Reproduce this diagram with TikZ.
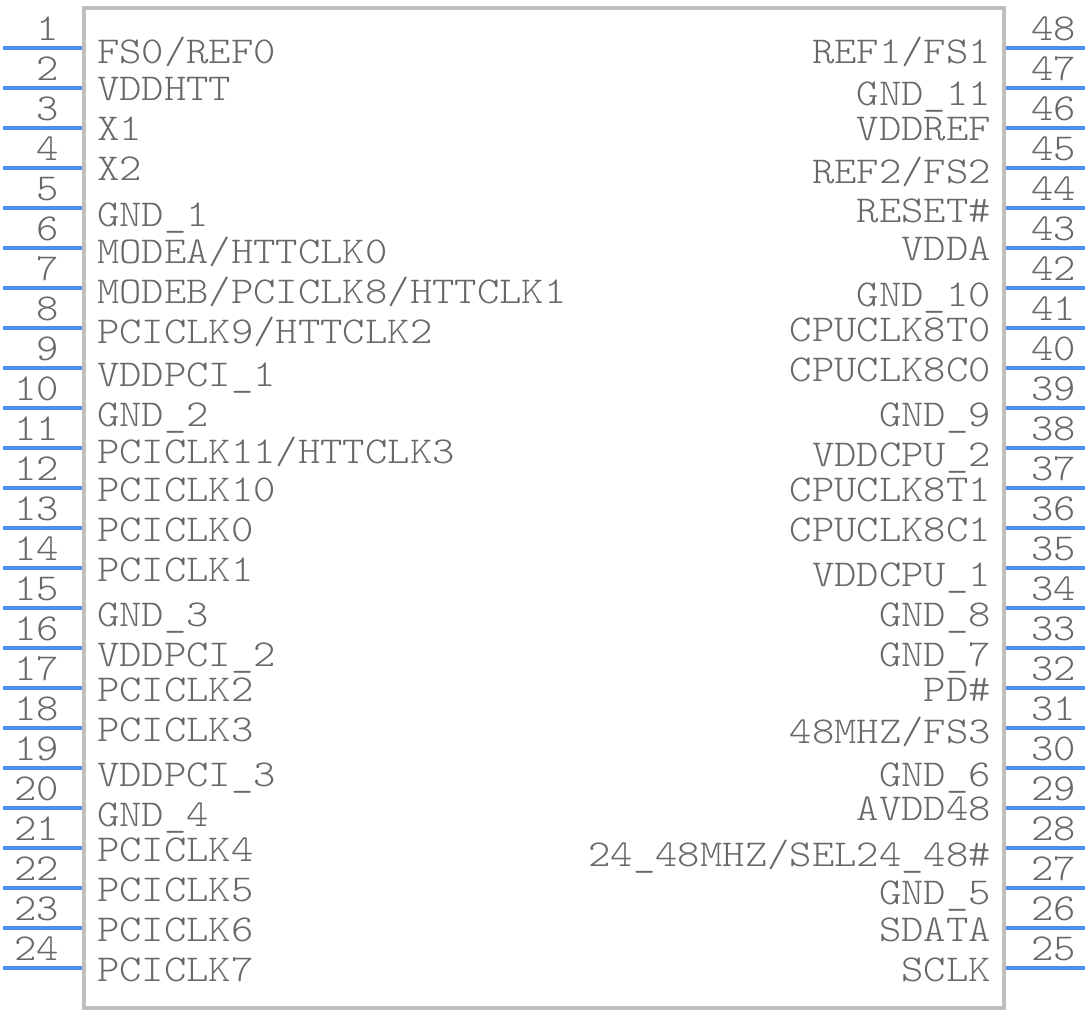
\documentclass[tikz,border=0pt]{standalone}
\usepackage{fontspec}
\setmonofont[FakeStretch=1.12]{Latin Modern Mono Light}
\usetikzlibrary{positioning}
\definecolor{pinblue}{HTML}{4A90EE}
\definecolor{bodygray}{HTML}{BFBFBF}
\definecolor{textgray}{HTML}{686868}
\tikzset{
    chipbody/.style={draw=bodygray, line width=4pt, inner sep=0pt, minimum width=919.5pt, minimum height=999.5pt},
    pinline/.style={draw=pinblue, line width=4pt},
    pintext/.style={font=\ttfamily\fontsize{38}{38}\selectfont, text=textgray, inner sep=0pt},
}

\begin{document}
\begin{tikzpicture}[x=1pt, y=-1pt]
    \useasboundingbox (0,0) rectangle (1088,1012);

    \node (chip) [chipbody] at (544,508) {};

    % Pins, 1 to 24 down the left and 48 to 25 down the right
    \foreach \i [evaluate=\i as \py using {48+40*(\i-1)}, evaluate=\i as \nr using {int(49-\i)}] in {1,...,24} {
        \coordinate (pinL\i) at (3,\py);
        \coordinate (pinR\nr) at (1085,\py);
        \draw[pinline] (pinL\i) -- (pinL\i -| chip.west);
        \draw[pinline] (pinR\nr) -- (pinR\nr -| chip.east);
        \node (numL\i) [pintext, anchor=base east] at ([shift={(56,-8)}]pinL\i) {\i};
        \node (numR\nr) [pintext, anchor=base west] at ([shift={(-54,-8)}]pinR\nr) {\nr};
    }

    % Left names
    \foreach \i/\ty/\txt in {
        1/63/{FS0/REF0}, 2/100/{VDDHTT}, 3/140/{X1}, 4/180/{X2},
        5/226/{GND\_1}, 6/263/{MODEA/HTTCLK0}, 7/303/{MODEB/PCICLK8/HTTCLK1}, 8/343/{PCICLK9/HTTCLK2},
        9/386/{VDDPCI\_1}, 10/426/{GND\_2}, 11/463/{PCICLK11/HTTCLK3}, 12/501/{PCICLK10},
        13/541/{PCICLK0}, 14/581/{PCICLK1}, 15/626/{GND\_3}, 16/666/{VDDPCI\_2},
        17/701/{PCICLK2}, 18/741/{PCICLK3}, 19/786/{VDDPCI\_3}, 20/826/{GND\_4},
        21/861/{PCICLK4}, 22/901/{PCICLK5}, 23/941/{PCICLK6}, 24/981/{PCICLK7}} {
        \node (nameL\i) [pintext, anchor=base west] at (97,\ty) {\txt};
    }

    % Right names
    \foreach \i/\ty/\txt in {
        48/63/{REF1/FS1}, 47/105/{GND\_11}, 46/140/{VDDREF}, 45/183/{REF2/FS2},
        44/222/{RESET\#}, 43/260/{VDDA}, 42/306/{GND\_10}, 41/341/{CPUCLK8T0},
        40/381/{CPUCLK8C0}, 39/426/{GND\_9}, 38/466/{VDDCPU\_2}, 37/501/{CPUCLK8T1},
        36/541/{CPUCLK8C1}, 35/586/{VDDCPU\_1}, 34/626/{GND\_8}, 33/666/{GND\_7},
        32/701/{PD\#}, 31/743/{48MHZ/FS3}, 30/786/{GND\_6}, 29/820/{AVDD48},
        28/866/{24\_48MHZ/SEL24\_48\#}, 27/904/{GND\_5}, 26/941/{SDATA}, 25/981/{SCLK}} {
        \node (nameR\i) [pintext, anchor=base east] at (991,\ty) {\txt};
    }
\end{tikzpicture}
\end{document}
